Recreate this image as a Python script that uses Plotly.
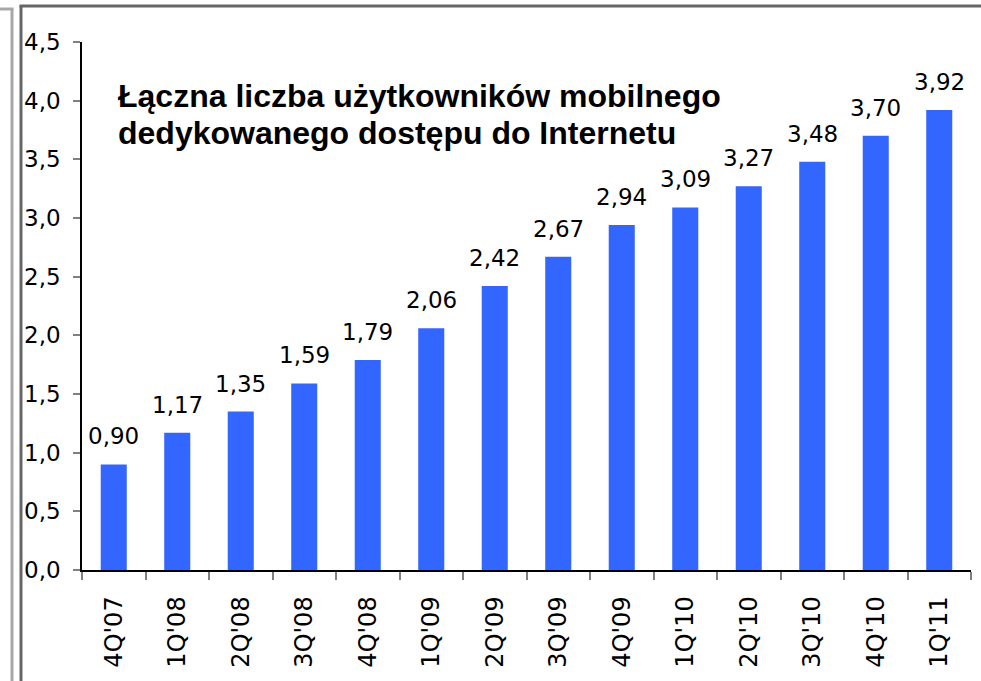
import plotly.graph_objects as go

categories = ["4Q'07", "1Q'08", "2Q'08", "3Q'08", "4Q'08", "1Q'09", "2Q'09",
              "3Q'09", "4Q'09", "1Q'10", "2Q'10", "3Q'10", "4Q'10", "1Q'11"]
values = [0.90, 1.17, 1.35, 1.59, 1.79, 2.06, 2.42, 2.67, 2.94, 3.09, 3.27, 3.48, 3.70, 3.92]
title_lines = ["Łączna liczba użytkowników mobilnego", "dedykowanego dostępu do Internetu"]

W, H = 981, 681
L, R, T, B = 82, 10, 42, 111
PW, PH = W - L - R, H - T - B


def px(x):
    return (x - L) / PW


def py(y):
    return (H - B - y) / PH


BAR = "#3366FF"
TICKFONT = dict(family="DejaVu Sans, Verdana, sans-serif", size=23, color="#000000")
XTICKFONT = dict(family="DejaVu Sans, Verdana, sans-serif", size=24, color="#000000")

fig = go.Figure(go.Bar(
    x=categories, y=values, marker=dict(color=BAR, line=dict(width=0)),
    hoverinfo="skip",
))

annotations = []
for c, v in zip(categories, values):
    annotations.append(dict(
        x=c, y=v, xref="x", yref="y", text=f"{v:.2f}".replace(".", ","),
        showarrow=False, yanchor="middle", xanchor="center", yshift=28,
        font=TICKFONT,
    ))

title_y = [96, 133]
for line, yy in zip(title_lines, title_y):
    annotations.append(dict(
        x=px(116), y=py(yy), xref="paper", yref="paper", text=f"<b>{line}</b>",
        showarrow=False, xanchor="left", yanchor="middle",
        font=dict(family="Liberation Sans, Arial, sans-serif", size=32, color="#000000"),
    ))

shapes = [
    # light grey frame on the far left
    dict(type="line", xref="paper", yref="paper", x0=px(12), x1=px(12), y0=py(9), y1=py(H + 5),
         line=dict(color="#A8A8A8", width=3)),
    dict(type="line", xref="paper", yref="paper", x0=px(-5), x1=px(13.5), y0=py(9), y1=py(9),
         line=dict(color="#A8A8A8", width=3)),
    # dark grey frame
    dict(type="line", xref="paper", yref="paper", x0=px(21), x1=px(21), y0=py(6), y1=py(H + 5),
         line=dict(color="#666666", width=3)),
    dict(type="line", xref="paper", yref="paper", x0=px(19.5), x1=px(W + 5), y0=py(6), y1=py(6),
         line=dict(color="#666666", width=3)),
]

fig.update_layout(
    width=W, height=H,
    margin=dict(l=L, r=R, t=T, b=B, pad=0),
    paper_bgcolor="white", plot_bgcolor="white",
    bargap=0.59,
    showlegend=False,
    separators=", ",
    annotations=annotations,
    shapes=shapes,
)
fig.update_yaxes(
    range=[0, 4.5], dtick=0.5, tick0=0, tickformat=".1f",
    showgrid=False, zeroline=False,
    showline=True, linecolor="#000000", linewidth=1.5,
    ticks="outside", ticklen=7, tickcolor="#808080", tickwidth=1.5,
    tickfont=TICKFONT, ticklabelstandoff=8,
)
fig.update_xaxes(
    showgrid=False, zeroline=False,
    showline=True, linecolor="#000000", linewidth=1.5,
    ticks="outside", ticklen=8, tickcolor="#808080", tickwidth=1.5,
    tickson="boundaries", tickangle=-90,
    tickfont=XTICKFONT, ticklabelstandoff=15,
)

fig.write_html(
    "out.html",
    config={"displayModeBar": False},
    post_script="document.body.style.margin='0';document.body.style.overflow='hidden';",
)
